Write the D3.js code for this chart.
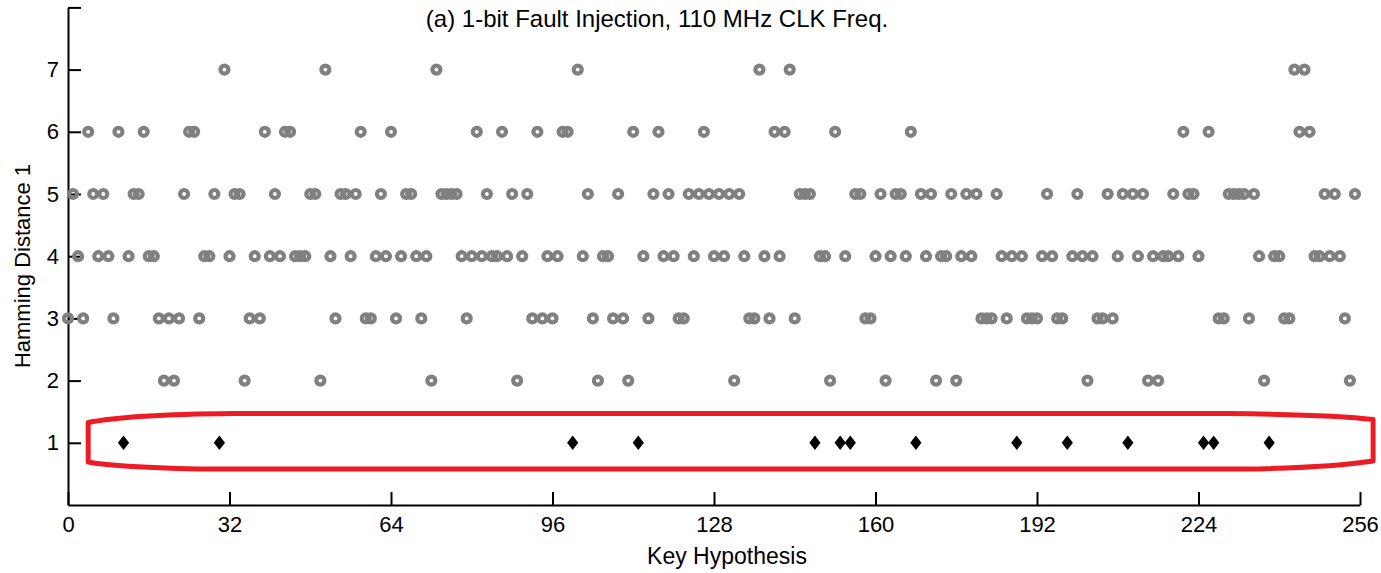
<!DOCTYPE html>
<html>
<head>
<meta charset="utf-8">
<script src="https://cdn.jsdelivr.net/npm/d3@7"></script>
<style>
  body { margin: 0; background: #fff; }
  svg text { font-family: "Liberation Sans", Arial, sans-serif; fill: #000; }
</style>
</head>
<body>
<div class="chart"></div>
<script>
// key hypotheses found at each hamming distance
const hd1 = [11, 30, 100, 113, 148, 153, 155, 168, 188, 198, 210, 225, 227, 238];
const hd2 = [19, 21, 35, 50, 72, 89, 105, 111, 132, 151, 162, 172, 176, 202, 214, 216, 237, 254];
const hd3 = [0, 3, 9, 18, 20, 22, 26, 36, 38, 53, 59, 60, 65, 70, 79, 92, 94, 96, 104, 108, 110,
  115, 121, 122, 135, 136, 139, 144, 158, 159, 181, 182, 183, 186, 190, 191, 192, 196, 197,
  204, 205, 207, 228, 229, 234, 241, 242, 253];
const hd4 = [2, 6, 8, 12, 16, 17, 27, 28, 32, 37, 40, 42, 45, 46, 47, 52, 56, 61, 63, 66, 69, 71,
  78, 80, 82, 84, 85, 87, 90, 95, 97, 102, 106, 107, 114, 118, 120, 124, 128, 130, 134, 138,
  141, 149, 150, 154, 160, 163, 166, 170, 173, 174, 177, 179, 185, 187, 189, 193, 195, 199,
  201, 203, 208, 212, 215, 217, 218, 220, 224, 236, 239, 240, 247, 248, 250, 252];
const hd5 = [1, 5, 7, 13, 14, 23, 29, 33, 34, 41, 48, 49, 54, 55, 57, 62, 67, 68, 74, 75, 76, 77,
  83, 88, 91, 103, 109, 116, 119, 123, 125, 127, 129, 131, 133, 145, 146, 147, 156, 157, 161,
  164, 165, 169, 171, 175, 178, 180, 184, 194, 200, 206, 209, 211, 213, 219, 222, 223, 230,
  231, 232, 233, 235, 249, 251, 255];
const hd6 = [4, 10, 15, 24, 25, 39, 43, 44, 58, 64, 81, 86, 93, 98, 99, 112, 117, 126, 140, 142,
  152, 167, 221, 226, 244, 246];
const hd7 = [31, 51, 73, 101, 137, 143, 243, 245];

const xTicks = [0, 32, 64, 96, 128, 160, 192, 224, 256];
const yTicks = [1, 2, 3, 4, 5, 6, 7, 8];

// red outline around the distance-1 row, in data units
const markX = [4.0, 258.6];
const markY = [0.58, 1.47];

const width = 1381;
const height = 573;

const svg = d3.select(".chart")
              .append("svg")
              .attr("width", width)
              .attr("height", height);

const x = d3.scaleLinear().domain([0, 256]).range([68, 1360]);
const y = d3.scaleLinear().domain([0, 8]).range([505, 7.4]);

const styleAxis = function(g) {
  g.selectAll("path, line").attr("stroke", "#000").attr("stroke-width", 2);
  g.selectAll("text").attr("font-size", 22).attr("font-family", "Liberation Sans, Arial, sans-serif");
};

// axes, ticks pointing inward
svg.append("g")
   .attr("transform", "translate(0," + y(0) + ")")
   .call(d3.axisBottom(x).tickValues(xTicks).tickSizeInner(-13).tickSizeOuter(0).tickPadding(11))
   .call(styleAxis);

svg.append("g")
   .attr("transform", "translate(" + x(0) + ",0)")
   .call(d3.axisLeft(y).tickValues(yTicks).tickSizeInner(-13).tickSizeOuter(0).tickPadding(9)
     .tickFormat(function(d) { return d === 8 ? "" : d; }))
   .call(styleAxis);

// rings for distances 2..7
const rows = [hd2, hd3, hd4, hd5, hd6, hd7];
rows.forEach(function(keys, i) {
  svg.append("g")
     .selectAll("circle")
     .data(keys)
     .enter()
     .append("circle")
     .attr("cx", function(d) { return x(d); })
     .attr("cy", y(i + 2))
     .attr("r", 4)
     .attr("fill", "none")
     .attr("stroke", "#808080")
     .attr("stroke-width", 4.2);
});

// black diamonds for distance 1
svg.append("g")
   .selectAll("path")
   .data(hd1)
   .enter()
   .append("path")
   .attr("d", d3.symbol(d3.symbolDiamond, 60))
   .attr("transform", function(d) { return "translate(" + x(d) + "," + y(1) + ") scale(1.35,1)"; })
   .attr("fill", "#000");

// hand drawn looking outline
const l = x(markX[0]), r = x(markX[1]);
const t = y(markY[1]), b = y(markY[0]);
const p = d3.path();
p.moveTo(l, t + 9);
p.quadraticCurveTo(l + 40, t + 1, l + 145, t);
p.lineTo(r - 145, t);
p.quadraticCurveTo(r - 40, t + 1, r, t + 6);
p.lineTo(r, b - 8);
p.quadraticCurveTo(r - 40, b - 2, r - 115, b);
p.lineTo(l + 110, b);
p.quadraticCurveTo(l + 25, b - 2, l, b - 7);
p.closePath();
svg.append("path")
   .attr("d", p.toString())
   .attr("fill", "none")
   .attr("stroke", "#ed1c24")
   .attr("stroke-width", 5)
   .attr("stroke-linejoin", "round");

// labels
svg.append("text")
   .attr("x", 657)
   .attr("y", 27)
   .attr("text-anchor", "middle")
   .attr("font-size", 24)
   .text("(a) 1-bit Fault Injection, 110 MHz CLK Freq.");

svg.append("text")
   .attr("x", 727)
   .attr("y", 564)
   .attr("text-anchor", "middle")
   .attr("font-size", 23)
   .text("Key Hypothesis");

svg.append("text")
   .attr("transform", "translate(30,266) rotate(-90)")
   .attr("text-anchor", "middle")
   .attr("font-size", 22)
   .text("Hamming Distance 1");
</script>
</body>
</html>
